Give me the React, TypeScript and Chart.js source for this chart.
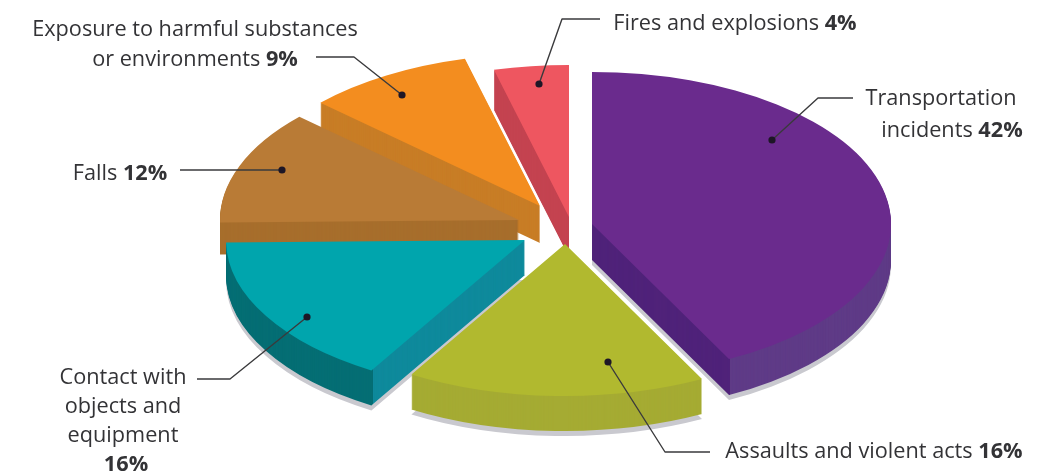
import React, { useEffect, useRef } from "react";
import { Chart, registerables } from "chart.js";

Chart.register(...registerables);

const categories = [
  "Transportation incidents",
  "Assaults and violent acts",
  "Contact with objects and equipment",
  "Falls",
  "Exposure to harmful substances or environments",
  "Fires and explosions",
];
const values = [42, 16, 16, 12, 9, 4];
const topColors = ["#6a2b8d", "#b1b92f", "#00a5ad", "#b97b36", "#f38d1f", "#ee5660"];
const radialSideColors = ["#50237a", "#a5ab33", "#0f8a9c", "#a76e2c", "#c87d26", "#c44350"];
const rimSideColors = ["#5f3b87", "#a5ab33", "#056e74", "#a76e2c", "#c87d26", "#c44350"];

// Exploded-pie placement of each slice, in page pixels.
const apexX = [592, 565, 525, 519, 540, 569];
const apexY = [224, 244, 240, 220, 206, 217];
const depths = [36, 35, 35, 32, 37, 40];
const rimSplitX = [730, 0, 373, 0, 0, 0];
const rimIsRight = [true, true, false, true, true, true];
const shadowSlices = [0, 1, 2];
const drawOrder = [5, 4, 3, 2, 1, 0];
const radiusX = 299;
const radiusY = 152;

const labelColor = "#333336";
const labelFont = "Open Sans";
const labelSize = 21.7;

type Run = [string, boolean];
type Row = { cx: number; y: number; runs: Run[] };
const labelRows: Row[] = [
  { cx: 195, y: 30, runs: [["Exposure to harmful substances", false]] },
  { cx: 195, y: 60, runs: [["or environments ", false], ["9%", true]] },
  { cx: 120, y: 174, runs: [["Falls ", false], ["12%", true]] },
  { cx: 735, y: 24, runs: [["Fires and explosions ", false], ["4%", true]] },
  { cx: 941, y: 99, runs: [["Transportation", false]] },
  { cx: 952, y: 131, runs: [["incidents ", false], ["42%", true]] },
  { cx: 874, y: 452, runs: [["Assaults and violent acts ", false], ["16%", true]] },
  { cx: 123, y: 378, runs: [["Contact with", false]] },
  { cx: 123, y: 407, runs: [["objects and", false]] },
  { cx: 123, y: 436, runs: [["equipment", false]] },
  { cx: 126, y: 465, runs: [["16%", true]] },
];

const leaders: number[][][] = [
  [[316, 57], [354, 57], [402, 95]],
  [[180, 170], [282, 170]],
  [[600, 19], [562, 19], [539, 84]],
  [[853, 98], [818, 98], [772, 140]],
  [[710, 452], [665, 452], [608, 362]],
  [[197, 379], [230, 379], [307, 317]],
];

const pie3d = {
  id: "pie3d",
  beforeDatasetsDraw(chart: any) {
    const ctx: CanvasRenderingContext2D = chart.ctx;
    const arcs = chart.getDatasetMeta(0).data;
    const place = (arc: any, i: number, dy: number, dx = 0) => {
      const k = arc.outerRadius;
      ctx.translate(apexX[i] + dx, apexY[i] + dy);
      ctx.scale(radiusX / k, radiusY / k);
      ctx.translate(-arc.x, -arc.y);
    };
    const paint = (arc: any, i: number, color: string, dy: number, dx = 0) => {
      const saved = arc.options;
      arc.options = { ...saved, backgroundColor: color, borderWidth: 0 };
      ctx.save();
      place(arc, i, dy, dx);
      arc.draw(ctx);
      ctx.restore();
      arc.options = saved;
    };
    for (const i of shadowSlices) paint(arcs[i], i, "#c9c9cf", depths[i] + 5, 0);
    for (const i of drawOrder) {
      const w = chart.width;
      const h = chart.height;
      const split = rimSplitX[i];
      for (let d = depths[i]; d >= 1; d--) {
        if (split === 0) {
          paint(arcs[i], i, radialSideColors[i], d);
          continue;
        }
        ctx.save();
        ctx.beginPath();
        if (rimIsRight[i]) ctx.rect(split, 0, w - split, h);
        else ctx.rect(0, 0, split, h);
        ctx.clip();
        paint(arcs[i], i, rimSideColors[i], d);
        ctx.restore();
        ctx.save();
        ctx.beginPath();
        if (rimIsRight[i]) ctx.rect(0, 0, split, h);
        else ctx.rect(split, 0, w - split, h);
        ctx.clip();
        paint(arcs[i], i, radialSideColors[i], d);
        ctx.restore();
      }
      paint(arcs[i], i, topColors[i], 0);
    }

    ctx.save();
    ctx.strokeStyle = "#3a3a3c";
    ctx.lineWidth = 1.4;
    ctx.lineJoin = "round";
    for (const pts of leaders) {
      ctx.beginPath();
      pts.forEach(([x, y], n) => (n ? ctx.lineTo(x, y) : ctx.moveTo(x, y)));
      ctx.stroke();
      const [ex, ey] = pts[pts.length - 1];
      ctx.beginPath();
      ctx.arc(ex, ey, 3.6, 0, Math.PI * 2);
      ctx.fillStyle = "#1d1626";
      ctx.fill();
    }
    ctx.textBaseline = "middle";
    ctx.textAlign = "left";
    ctx.fillStyle = labelColor;
    for (const row of labelRows) {
      const fontOf = (b: boolean) => `${b ? "700 " : ""}${labelSize}px "${labelFont}"`;
      let total = 0;
      for (const [t, b] of row.runs) {
        ctx.font = fontOf(b);
        total += ctx.measureText(t).width;
      }
      let x = row.cx - total / 2;
      for (const [t, b] of row.runs) {
        ctx.font = fontOf(b);
        ctx.fillText(t, x, row.y);
        x += ctx.measureText(t).width;
      }
    }
    ctx.restore();
    return false;
  },
};

export default function App() {
  const ref = useRef<HTMLCanvasElement>(null);
  useEffect(() => {
    const chart = new Chart(ref.current!, {
      type: "pie",
      data: {
        labels: categories,
        datasets: [{ data: values, backgroundColor: topColors, borderWidth: 0 }],
      },
      options: {
        responsive: false,
        animation: false,
        rotation: 0,
        plugins: { legend: { display: false }, tooltip: { enabled: false } },
      },
      plugins: [pie3d],
    } as any);
    return () => chart.destroy();
  }, []);
  return (
    <div style={{ position: "absolute", left: 0, top: 0, width: 1048, height: 474, background: "#fff" }}>
      <canvas ref={ref} width={1048} height={474} style={{ display: "block" }} />
    </div>
  );
}
